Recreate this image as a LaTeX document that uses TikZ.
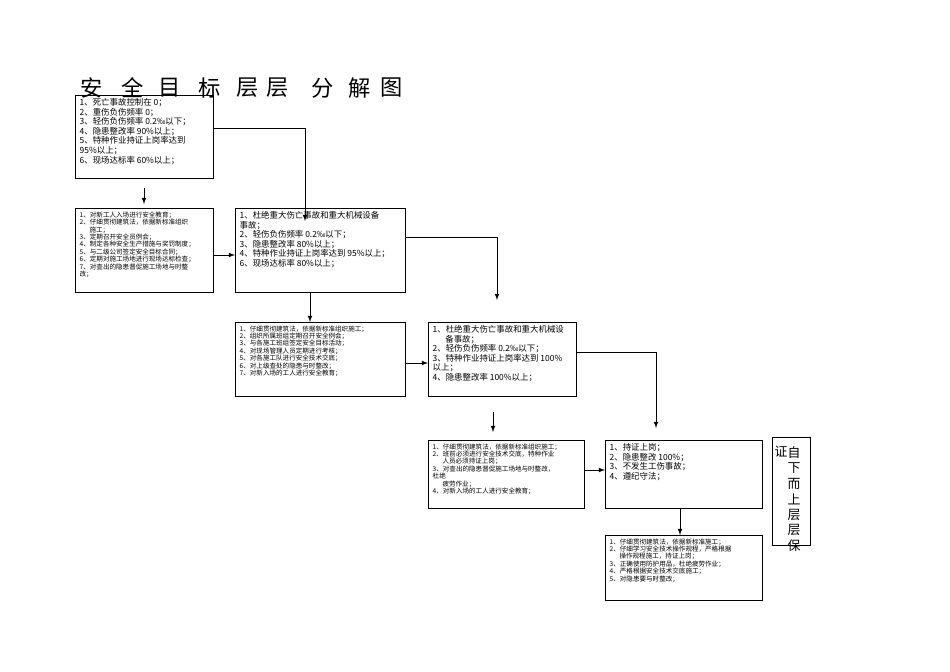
\documentclass[tikz,border=0pt]{standalone}
\usepackage{fontspec}
\setmainfont{Noto Sans CJK SC}
\usetikzlibrary{positioning}
\usetikzlibrary{arrows}

\tikzset{
  box/.style={draw, thick, anchor=north west, inner sep=0pt, outer sep=0pt},
  link/.style={thick, -latex},
}
% top aligned text in a box of fixed size
\newcommand{\boxtext}[4]{\parbox[c][#2][t]{#1}{\vspace{3pt}\hspace*{4pt}\parbox[t]{\dimexpr#1-8pt}{\linespread{0.95}#3\selectfont #4}}}

\begin{document}
\begin{tikzpicture}[x=0.03cm,y=-0.03cm]
  \useasboundingbox (0,0) rectangle (950,672);

  % title
  \foreach \c/\xx in {安/92,全/133,目/170,标/210,层/248,层/278,分/323,解/360,图/392}
    \node[font=\fontsize{19}{19}\selectfont] at (\xx,88) {\c};

  \node[box] (A) at (75,95) {\boxtext{4.14cm}{2.49cm}{\fontsize{7.2}{8.6}}{%
    1、死亡事故控制在 0；\\2、重伤负伤频率 0；\\3、轻伤负伤频率 0.2‰以下；\\4、隐患整改率 90\%以上；\\5、特种作业持证上岗率达到 95\%以上；\\6、现场达标率 60\%以上；}};

  \node[box] (B) at (75,208) {\boxtext{4.14cm}{2.52cm}{\fontsize{5.6}{6.7}}{%
    1、对新工人入场进行安全教育；\\2、仔细贯彻建筑法，依据新标准组织\\\hspace*{1.5em}施工；\\3、定期召开安全员例会；\\4、制定各种安全生产措施与奖罚制度；\\5、与二级公司签定安全目标合同；\\6、定期对施工场地进行现场达标检查；\\7、对查出的隐患督促施工场地与时整\\改；}};

  \node[box] (C) at (235,208) {\boxtext{5.1cm}{2.52cm}{\fontsize{7.2}{8.6}}{%
    1、杜绝重大伤亡事故和重大机械设备\\事故；\\2、轻伤负伤频率 0.2‰以下；\\3、隐患整改率 80\%以上；\\4、特种作业持证上岗率达到 95\%以上；\\6、现场达标率 80\%以上；}};

  \node[box] (D) at (235,322) {\boxtext{5.1cm}{2.22cm}{\fontsize{5.6}{6.7}}{%
    1、仔细贯彻建筑法，依据新标准组织施工；\\2、组织所属班组定期召开安全例会；\\3、与各施工班组签定安全目标活动；\\4、对现场管理人员定期进行考核；\\5、对各施工队进行安全技术交底；\\6、对上级查处的隐患与时整改；\\7、对新入场的工人进行安全教育；}};

  \node[box] (E) at (428,322) {\boxtext{4.44cm}{2.22cm}{\fontsize{7.2}{8.6}}{%
    1、杜绝重大伤亡事故和重大机械设\\\hspace*{1.5em}备事故；\\2、轻伤负伤频率 0.2‰以下；\\3、特种作业持证上岗率达到 100\%\\以上；\\4、隐患整改率 100\%以上；}};

  \node[box] (F) at (428,440) {\boxtext{4.68cm}{2.04cm}{\fontsize{5.6}{6.7}}{%
    1、仔细贯彻建筑法，依据新标准组织施工；\\2、班前必须进行安全技术交底，特种作业\\\hspace*{1.5em}人员必须持证上岗；\\3、对查出的隐患督促施工场地与时整改，\\杜绝\\\hspace*{1.5em}疲劳作业；\\4、对新入场的工人进行安全教育；}};

  \node[box] (G) at (605,440) {\boxtext{4.71cm}{2.04cm}{\fontsize{7.2}{8.6}}{%
    1、持证上岗；\\2、隐患整改 100\%；\\3、不发生工伤事故；\\4、遵纪守法；}};

  \node[box] (H) at (605,535) {\boxtext{4.71cm}{1.95cm}{\fontsize{5.6}{6.7}}{%
    1、仔细贯彻建筑法，依据新标准施工；\\2、仔细学习安全技术操作规程，严格根据\\\hspace*{1.5em}操作规程施工，持证上岗；\\3、正确使用防护用品，杜绝疲劳作业；\\4、严格根据安全技术交底施工；\\5、对隐患要与时整改；}};

  % side note
  \draw[thick] (772,437) rectangle (810,545);
  \node[font=\fontsize{11}{11}\selectfont] (Zh) at (781,452) {证};
  \foreach \c [count=\i] in {自,下,而,上,层,层,保}
    \node[font=\fontsize{11}{11}\selectfont] at (794,437+\i*15.5) {\c};

  % connectors
  \coordinate (a1) at (213,128);
  \coordinate (a2) at (305,128);
  \draw[link] (A.east |- a1) -- (a2) -- ([yshift=-0.39cm]C.north -| a2);
  \draw[link, shorten <=0.3cm, shorten >=0.12cm] (A.south) -- (A.south |- B.north);
  \draw[link] (B.east |- 0,255) -- (C.west |- 0,255);
  \coordinate (c1) at (497,237);
  \draw[link] (C.east |- c1) -- (c1) -- ([yshift=0.66cm]c1 |- E.north);
  \draw[link] (310,292) -- (D.north -| 310,0);
  \draw[link] (D.east |- 0,363) -- (E.west |- 0,363);
  \coordinate (e1) at (656,352);
  \draw[link] (E.east |- e1) -- (e1) -- ([yshift=0.36cm]e1 |- G.north);
  \draw[link, shorten <=0.48cm, shorten >=0.24cm] (493,396) -- (F.north -| 493,0);
  \draw[link] (F.east |- 0,470) -- (G.west |- 0,470);
  \draw[link] (680,508) -- (H.north -| 680,0);
\end{tikzpicture}
\end{document}
